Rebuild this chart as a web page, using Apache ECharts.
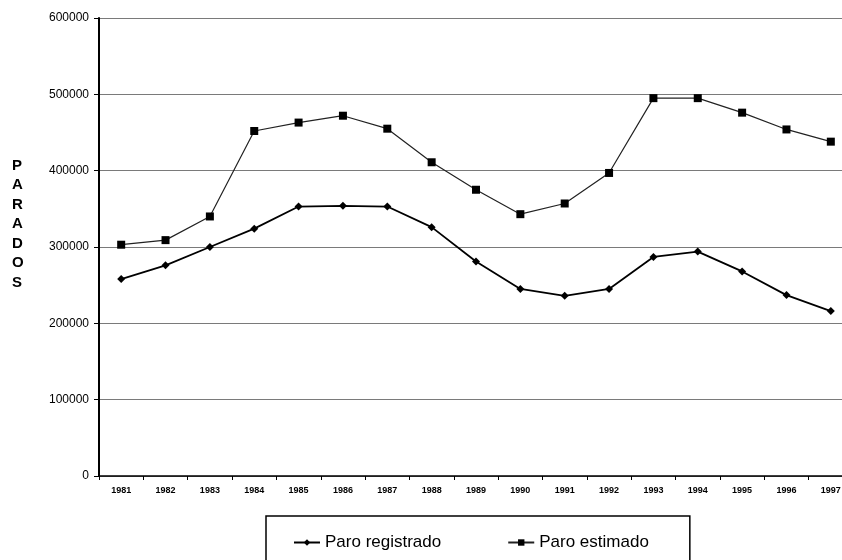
<!DOCTYPE html>
<html>
<head>
<meta charset="utf-8">
<script src="https://cdn.jsdelivr.net/npm/echarts@6/dist/echarts.min.js"></script>
<style>
  html, body { margin: 0; padding: 0; background: #fff; }
  #myChart { width: 842px; height: 560px; }
</style>
</head>
<body>
<div id="myChart"></div>
<script>
  // datos
  var years = ['1981', '1982', '1983', '1984', '1985', '1986', '1987', '1988', '1989',
               '1990', '1991', '1992', '1993', '1994', '1995', '1996', '1997'];
  var paroRegistrado = [258000, 276000, 300000, 324000, 353000, 354000, 353000, 326000, 281000,
                        245000, 236000, 245000, 287000, 294000, 268000, 237000, 216000];
  var paroEstimado = [303000, 309000, 340000, 452000, 463000, 472000, 455000, 411000, 375000,
                      343000, 357000, 397000, 495000, 495000, 476000, 454000, 438000];

  var myChart = echarts.init(document.getElementById('myChart'));

  myChart.setOption({
    animation: false,
    backgroundColor: '#fff',
    textStyle: { fontFamily: 'Liberation Sans, Arial, sans-serif' },
    title: {
      text: 'P\nA\nR\nA\nD\nO\nS',
      left: 7,
      top: 151,
      textStyle: {
        fontSize: 15,
        fontWeight: 'bold',
        color: '#000',
        lineHeight: 19.5
      }
    },
    legend: {
      left: 266,
      top: 516,
      padding: [18, 41, 40, 27],
      itemGap: 66,
      itemWidth: 26,
      itemHeight: 8,
      borderColor: '#000',
      borderWidth: 1.5,
      textStyle: { fontSize: 17, color: '#000' },
      data: ['Paro registrado', 'Paro estimado']
    },
    grid: {
      left: 99,
      top: 18,
      width: 754,
      bottom: 84,
      outerBoundsMode: 'none',
      containLabel: false
    },
    xAxis: {
      type: 'category',
      data: years,
      boundaryGap: true,
      axisLine: { lineStyle: { color: '#000', width: 1.5 } },
      axisTick: { show: true, length: 4, lineStyle: { color: '#000' } },
      axisLabel: { fontSize: 9, fontWeight: 'bold', color: '#000', margin: 10 }
    },
    yAxis: {
      type: 'value',
      min: 0,
      max: 600000,
      interval: 100000,
      axisLine: { show: true, lineStyle: { color: '#000', width: 2 } },
      axisTick: { show: true, length: 5, inside: false, lineStyle: { color: '#000' } },
      axisLabel: {
        fontSize: 12,
        color: '#000',
        margin: 10,
        formatter: function (v) { return String(v); }
      },
      splitLine: { show: true, lineStyle: { color: '#7a7a7a', width: 1.2 } }
    },
    series: [
      {
        name: 'Paro registrado',
        type: 'line',
        data: paroRegistrado,
        symbol: 'diamond',
        symbolSize: 8,
        lineStyle: { color: '#000', width: 1.8 },
        itemStyle: { color: '#000' }
      },
      {
        name: 'Paro estimado',
        type: 'line',
        data: paroEstimado,
        symbol: 'rect',
        symbolSize: 8,
        lineStyle: { color: '#222', width: 1.2 },
        itemStyle: { color: '#000' }
      }
    ]
  });
</script>
</body>
</html>
